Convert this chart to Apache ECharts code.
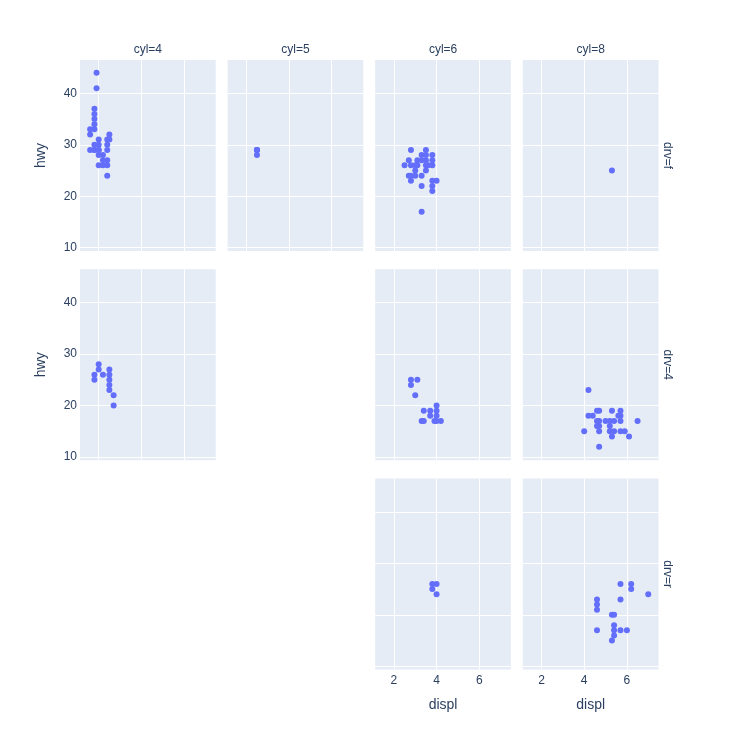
<!DOCTYPE html>
<html>
<head>
<meta charset="utf-8">
<script src="https://cdn.jsdelivr.net/npm/echarts@6/dist/echarts.min.js"></script>
<style>
  html, body { margin: 0; padding: 0; background: #fff; }
  #chart { width: 750px; height: 750px; }
</style>
</head>
<body>
<div id="chart"></div>
<script>
// facet levels
var cylLevels = [4, 5, 6, 8];
var drvLevels = ['f', '4', 'r'];

// tick labels
var displTicks = [2, 4, 6];
var hwyTicks = [10, 20, 30, 40];

// [displ, hwy] points for each facet
var cyl4_drvf = [
  [1.8, 29], [1.8, 29], [2.0, 31], [2.0, 30], [2.4, 27], [2.4, 30], [2.4, 24],
  [1.6, 33], [1.6, 32], [1.6, 29], [1.8, 34], [1.8, 36], [2.0, 29],
  [2.4, 26], [2.4, 31], [2.0, 26], [2.0, 28], [2.4, 29], [2.5, 31], [2.5, 32],
  [2.2, 26], [2.2, 28], [2.2, 27], [1.8, 30], [1.8, 33], [1.8, 35], [1.8, 37],
  [1.9, 44], [1.9, 41], [2.0, 29]
];
var cyl5_drvf = [[2.5, 29], [2.5, 29], [2.5, 28], [2.5, 29]];
var cyl6_drvf = [
  [2.8, 26], [3.1, 27], [3.1, 26], [3.5, 29], [3.6, 26], [3.0, 24], [3.3, 22],
  [3.3, 24], [3.3, 17], [3.8, 22], [3.8, 21], [3.8, 23], [4.0, 23], [2.5, 26],
  [3.3, 28], [2.7, 27], [2.7, 24], [3.5, 27], [3.5, 26], [3.0, 26], [3.0, 25],
  [3.5, 25], [3.8, 26], [3.8, 27], [3.8, 28], [3.5, 28], [3.3, 27], [2.8, 23],
  [2.8, 24], [2.8, 29]
];
var cyl8_drvf = [[5.3, 25]];
var cyl4_drv4 = [
  [1.8, 26], [1.8, 25], [2.0, 28], [2.0, 27], [2.5, 25], [2.5, 24], [2.5, 27],
  [2.5, 26], [2.5, 23], [2.2, 26], [2.7, 20], [2.7, 22]
];
var cyl6_drv4 = [
  [2.8, 25], [3.1, 25], [2.8, 24], [3.7, 19], [3.7, 18], [3.9, 17], [4.0, 17],
  [4.0, 19], [4.2, 17], [3.0, 22], [4.0, 20], [3.3, 17], [3.4, 17], [3.4, 19],
  [4.0, 18]
];
var cyl8_drv4 = [
  [4.2, 23], [5.3, 19], [5.3, 14], [5.7, 15], [6.5, 17], [4.7, 19], [4.7, 12],
  [5.2, 17], [5.2, 15], [4.7, 17], [5.2, 16], [5.7, 18], [5.9, 15], [4.7, 16],
  [5.7, 17], [4.6, 19], [5.0, 17], [4.6, 16], [4.6, 17], [5.4, 15], [5.4, 17],
  [5.7, 19], [6.1, 14], [4.0, 15], [4.2, 18], [4.4, 18], [5.6, 18], [4.7, 15]
];
var cyl6_drvr = [[3.8, 26], [3.8, 25], [4.0, 26], [4.0, 24]];
var cyl8_drvr = [
  [5.3, 20], [5.3, 15], [5.7, 17], [6.0, 17], [5.7, 26], [5.7, 23], [6.2, 26],
  [6.2, 25], [7.0, 24], [4.6, 17], [5.4, 17], [5.4, 18], [4.6, 21], [4.6, 22],
  [4.6, 23], [5.4, 16], [5.4, 20]
];

var panels = [
  { row: 0, col: 0, data: cyl4_drvf },
  { row: 0, col: 1, data: cyl5_drvf },
  { row: 0, col: 2, data: cyl6_drvf },
  { row: 0, col: 3, data: cyl8_drvf },
  { row: 1, col: 0, data: cyl4_drv4 },
  { row: 1, col: 2, data: cyl6_drv4 },
  { row: 1, col: 3, data: cyl8_drv4 },
  { row: 2, col: 2, data: cyl6_drvr },
  { row: 2, col: 3, data: cyl8_drvr }
];

var textColor = '#2a3f5f';
var font = '"Liberation Sans", Arial, sans-serif';
var left0 = 80, top0 = 60, panelW = 135.7, panelH = 191, stepX = 147.6, stepY = 209.3;

var grids = [], xAxes = [], yAxes = [], series = [];
panels.forEach(function (p, i) {
  grids.push({
    left: left0 + p.col * stepX, top: top0 + p.row * stepY,
    width: panelW, height: panelH,
    show: true, backgroundColor: '#E5ECF6', borderWidth: 0, containLabel: false
  });
  xAxes.push({
    type: 'value', gridIndex: i, min: 1.125, max: 7.48,
    axisLine: { show: false },
    axisTick: { show: false, customValues: displTicks },
    axisLabel: { show: p.row === 2, customValues: displTicks, color: textColor, fontSize: 12, fontFamily: font, margin: 5 },
    splitLine: { show: true, lineStyle: { color: '#fff', width: 1 } }
  });
  yAxes.push({
    type: 'value', gridIndex: i, min: 9.36, max: 46.47,
    axisLine: { show: false },
    axisTick: { show: false, customValues: hwyTicks },
    axisLabel: { show: p.col === 0, customValues: hwyTicks, color: textColor, fontSize: 12, fontFamily: font, margin: 3 },
    splitLine: { show: true, lineStyle: { color: '#fff', width: 1 } }
  });
  series.push({
    type: 'scatter', xAxisIndex: i, yAxisIndex: i, data: p.data,
    symbolSize: 6, itemStyle: { color: '#636efa', opacity: 1 },
    emphasis: { disabled: true }, silent: true
  });
});

var graphics = [];
cylLevels.forEach(function (c, j) {
  graphics.push({
    type: 'text', x: left0 + j * stepX + panelW / 2, y: 50,
    style: { text: 'cyl=' + c, fill: textColor, font: '12px ' + font, textAlign: 'center', textVerticalAlign: 'middle' }
  });
});
drvLevels.forEach(function (d, r) {
  graphics.push({
    type: 'text', x: 667, y: top0 + r * stepY + panelH / 2, rotation: -Math.PI / 2,
    style: { text: 'drv=' + d, fill: textColor, font: '12px ' + font, textAlign: 'center', textVerticalAlign: 'middle' }
  });
});
[0, 1].forEach(function (r) {
  graphics.push({
    type: 'text', x: 41, y: top0 + r * stepY + panelH / 2, rotation: Math.PI / 2,
    style: { text: 'hwy', fill: textColor, font: '14px ' + font, textAlign: 'center', textVerticalAlign: 'middle' }
  });
});
[2, 3].forEach(function (c) {
  graphics.push({
    type: 'text', x: left0 + c * stepX + panelW / 2, y: 705,
    style: { text: 'displ', fill: textColor, font: '14px ' + font, textAlign: 'center', textVerticalAlign: 'middle' }
  });
});

var chart = echarts.init(document.getElementById('chart'));
chart.setOption({
  animation: false,
  backgroundColor: '#fff',
  grid: grids,
  xAxis: xAxes,
  yAxis: yAxes,
  series: series,
  graphic: graphics
});
</script>
</body>
</html>
